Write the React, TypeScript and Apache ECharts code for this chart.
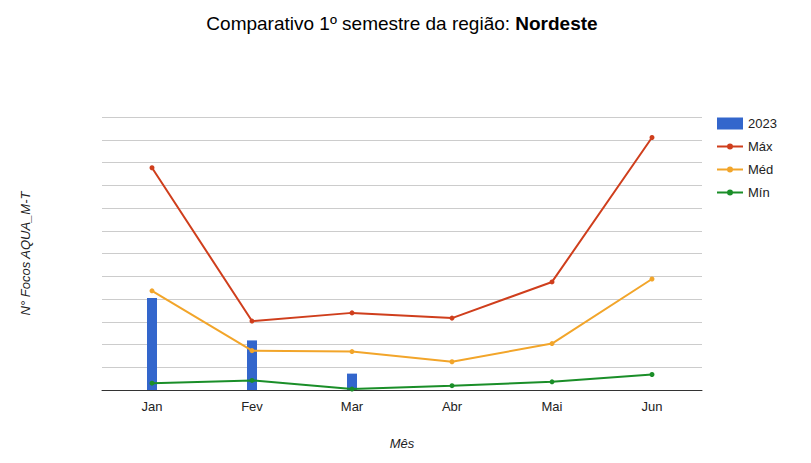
import React, { useEffect, useRef } from "react";
import * as echarts from "echarts";

const months = ["Jan", "Fev", "Mar", "Abr", "Mai", "Jun"];
const v2023 = [404, 218, 72, null, null, null];
const vMax = [977, 303, 339, 316, 475, 1110];
const vMed = [436, 173, 169, 124, 204, 488];
const vMin = [30, 42, 4, 19, 36, 68];

const FONT = "'Liberation Sans', Arial, sans-serif";
const LINE_ICON =
  "path://M0,4 L26,4 L26,6 L0,6 Z M10,5 a3,3 0 1,1 6,0 a3,3 0 1,1 -6,0 Z M0,2 L0.01,2 L0.01,8 L0,8 Z";

export default function App() {
  const ref = useRef<HTMLDivElement>(null);
  useEffect(() => {
    if (!ref.current) return;
    const chart = echarts.init(ref.current, undefined, { renderer: "svg" });
    const lineSeries = (name: string, data: number[], color: string) => ({
      name,
      type: "line",
      data,
      symbol: "circle",
      symbolSize: 5,
      itemStyle: { color },
      lineStyle: { color, width: 2 },
      z: 3,
    });
    chart.setOption({
      animation: false,
      backgroundColor: "#fff",
      textStyle: { fontFamily: FONT },
      title: {
        text: "{n|Comparativo 1º semestre da região: }{b|Nordeste}",
        left: 389,
        textAlign: "center",
        top: 1,
        textStyle: {
          fontWeight: "normal",
          rich: {
            n: { fontFamily: FONT, fontSize: 19, color: "#000", fontWeight: "normal" },
            b: { fontFamily: FONT, fontSize: 19, color: "#000", fontWeight: "bold" },
          },
        },
      },
      legend: {
        orient: "vertical",
        left: 704,
        top: 104,
        itemWidth: 26,
        itemHeight: 12,
        itemGap: 10,
        symbolKeepAspect: true,
        textStyle: { fontFamily: FONT, fontSize: 13, color: "#222" },
        data: [
          { name: "2023", icon: "rect" },
          { name: "Máx", icon: LINE_ICON },
          { name: "Méd", icon: LINE_ICON },
          { name: "Mín", icon: LINE_ICON },
        ],
      },
      grid: { left: 94, right: 101, top: 109, bottom: 61, containLabel: false },
      xAxis: {
        type: "category",
        data: months,
        name: "Mês",
        nameLocation: "middle",
        nameGap: 47,
        nameTextStyle: { fontFamily: FONT, fontSize: 13, fontStyle: "italic", color: "#222" },
        axisLine: { lineStyle: { color: "#333", width: 1 } },
        axisTick: { show: false },
        axisLabel: { fontFamily: FONT, fontSize: 13, color: "#222", margin: 10 },
      },
      yAxis: {
        type: "value",
        min: 0,
        max: 1200,
        interval: 100,
        name: "N° Focos AQUA_M-T",
        nameLocation: "middle",
        nameGap: 70,
        nameTextStyle: { fontFamily: FONT, fontSize: 13, fontStyle: "italic", color: "#222" },
        axisLabel: { show: false },
        axisLine: { show: false },
        axisTick: { show: false },
        splitLine: { lineStyle: { color: "#ccc", width: 1 } },
      },
      series: [
        {
          name: "2023",
          type: "bar",
          data: v2023,
          barWidth: 10,
          itemStyle: { color: "#3366cc" },
          z: 2,
        },
        lineSeries("Máx", vMax, "#cf3e1c"),
        lineSeries("Méd", vMed, "#f2a52a"),
        lineSeries("Mín", vMin, "#1a8e28"),
      ],
    });
    return () => chart.dispose();
  }, []);
  return <div ref={ref} style={{ width: 795, height: 447 }} />;
}
